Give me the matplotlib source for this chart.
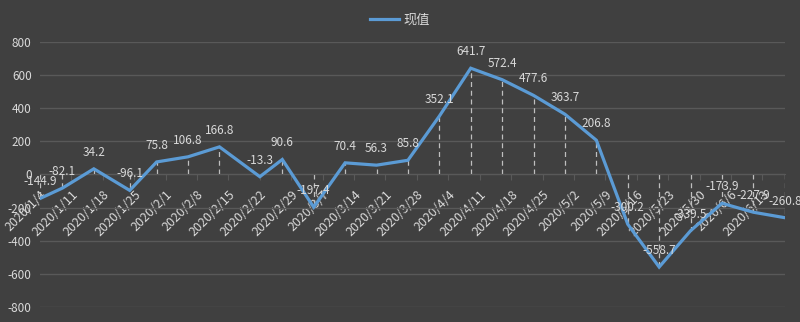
import numpy as np
import pandas as pd
import matplotlib
matplotlib.use("Agg")
import matplotlib.pyplot as plt

plt.rcParams['font.family'] = ['Noto Sans CJK SC', 'DejaVu Sans']

# data
dates = ['2020-01-04', '2020-01-09', '2020-01-16', '2020-01-24', '2020-01-30',
         '2020-02-06', '2020-02-13', '2020-02-22', '2020-02-27', '2020-03-05',
         '2020-03-12', '2020-03-19', '2020-03-26', '2020-04-02', '2020-04-09',
         '2020-04-16', '2020-04-23', '2020-04-30', '2020-05-07', '2020-05-14',
         '2020-05-21', '2020-05-28', '2020-06-04', '2020-06-11', '2020-06-18']
values = [-144.9, -82.1, 34.2, -96.1, 75.8,
          106.8, 166.8, -13.3, 90.6, -197.4,
          70.4, 56.3, 85.8, 352.1, 641.7,
          572.4, 477.6, 363.7, 206.8, -300.2,
          -558.7, -339.5, -173.9, -227.9, -260.8]
tick_dates = ['2020-01-04', '2020-01-11', '2020-01-18', '2020-01-25', '2020-02-01',
              '2020-02-08', '2020-02-15', '2020-02-22', '2020-02-29', '2020-03-07',
              '2020-03-14', '2020-03-21', '2020-03-28', '2020-04-04', '2020-04-11',
              '2020-04-18', '2020-04-25', '2020-05-02', '2020-05-09', '2020-05-16',
              '2020-05-23', '2020-05-30', '2020-06-06', '2020-06-13']
yticks = [-800, -600, -400, -200, 0, 200, 400, 600, 800]
series_name = '现值'

bg = '#404040'
txt = '#D9D9D9'
grid = '#595959'
blue = '#5B9BD5'

x = pd.to_datetime(dates)
tx = pd.to_datetime(tick_dates)
tick_labels = [f'{d.year}/{d.month}/{d.day}' for d in tx]

fig = plt.figure(figsize=(8, 3.22), dpi=100, facecolor=bg)
ax = fig.add_axes([0.05, 0.0466, 0.931, 0.823])
ax.set_facecolor(bg)

ax.set_ylim(-800, 800)
ax.set_xlim(x[0], x[-1])
ax.set_yticks(yticks)
ax.set_yticklabels([str(v) for v in yticks])
ax.grid(axis='y', color=grid, linewidth=1)
ax.set_axisbelow(True)

# drop lines from each point to the zero axis
ax.vlines(x, 0, values, colors='#BFBFBF', linestyles=(0, (4, 3)), linewidth=0.9, zorder=2)
line, = ax.plot(x, values, color=blue, linewidth=2.3, zorder=3, label=series_name,
                solid_joinstyle='miter')

for xi, v in zip(x, values):
    ax.annotate(f'{v:.1f}', (xi, v), xytext=(0, 12), textcoords='offset points',
                ha='center', va='center', color=txt, fontsize=8.5, zorder=4)

for s in ['top', 'right', 'left']:
    ax.spines[s].set_visible(False)
ax.spines['bottom'].set_position(('data', 0))
ax.spines['bottom'].set_color(grid)

ax.set_xticks(tx)
ax.set_xticklabels(tick_labels, rotation=45, ha='right', va='top', rotation_mode='anchor')
ax.tick_params(axis='x', colors=grid, labelcolor=txt, labelsize=9, length=4, pad=6)
ax.tick_params(axis='y', colors=txt, labelsize=8.5, length=0, pad=6)

fig.legend(handles=[line], loc='upper center', bbox_to_anchor=(0.5, 0.995), frameon=False,
           labelcolor=txt, fontsize=9.5, handlelength=2.2, handletextpad=0.3)

fig.savefig('out.png', dpi=100, facecolor=bg)
